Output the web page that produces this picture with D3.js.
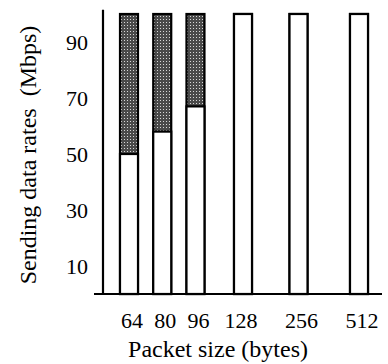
<!DOCTYPE html>
<html>
<head>
    <script src="https://d3js.org/d3.v7.min.js"></script>
    <style>
        body { margin: 0; background-color: #ffffff; }
        text { font-family: "Liberation Serif", "Times New Roman", serif; fill: #000; }
    </style>
</head>
<body>
    <svg id="canvas" width="388" height="364"></svg>
    <script>
        const svg = d3.select('#canvas');

        //packet sizes and rates
        const packetSizes = ['64', '80', '96', '128', '256', '512'];
        const sentRates = [50, 58, 67, 100, 100, 100];   //white part
        const offeredRates = [100, 100, 100, 100, 100, 100]; //top of the shaded part
        const yTicks = [10, 30, 50, 70, 90];

        //bars are not evenly spaced in the original, so each one gets a slot
        const slots = [0, 1, 2, 3.43, 5.1, 6.92];
        const BAR_WIDTH = 18;
        const TICK_FONT = 22;
        const TITLE_FONT = 24;

        const x = d3.scaleLinear().domain([0, 6.92]).range([129, 359]);
        const y = d3.scaleLinear().domain([0, 100]).range([294, 14]);

        //stipple pattern for the shaded part
        const defs = svg.append('defs');
        const pat = defs.append('pattern')
            .attr('id', 'stipple')
            .attr('width', 3).attr('height', 3)
            .attr('patternUnits', 'userSpaceOnUse');
        pat.append('rect').attr('width', 3).attr('height', 3).attr('fill', '#4a4a4a');
        pat.append('rect').attr('x', 1).attr('y', 1).attr('width', 1).attr('height', 1).attr('fill', '#d8d8d8');

        const bars = packetSizes.map((p, i) => ({ p, slot: slots[i], sent: sentRates[i], top: offeredRates[i] }));

        //shaded part (whole bar), then white part drawn over it
        svg.selectAll('.bar-top')
            .data(bars)
            .enter()
            .append('rect')
            .attr('class', 'bar-top')
            .attr('x', d => x(d.slot) - BAR_WIDTH / 2)
            .attr('y', d => y(d.top))
            .attr('width', BAR_WIDTH)
            .attr('height', d => y(0) - y(d.top))
            .attr('fill', 'url(#stipple)')
            .attr('stroke', 'black')
            .attr('stroke-width', 2.2);

        svg.selectAll('.bar-sent')
            .data(bars)
            .enter()
            .append('rect')
            .attr('class', 'bar-sent')
            .attr('x', d => x(d.slot) - BAR_WIDTH / 2)
            .attr('y', d => y(d.sent))
            .attr('width', BAR_WIDTH)
            .attr('height', d => y(0) - y(d.sent))
            .attr('fill', 'white')
            .attr('stroke', 'black')
            .attr('stroke-width', 2.2);

        //axes lines
        svg.append('line')
            .attr('x1', 103).attr('x2', 103)
            .attr('y1', y(101.5)).attr('y2', y(0))
            .attr('stroke', 'black').attr('stroke-width', 2.2);
        svg.append('line')
            .attr('x1', 94).attr('x2', 382)
            .attr('y1', y(0)).attr('y2', y(0))
            .attr('stroke', 'black').attr('stroke-width', 2.2);

        //y tick labels, no tick marks
        svg.selectAll('.ytick')
            .data(yTicks)
            .enter()
            .append('text')
            .attr('class', 'ytick')
            .attr('x', 88)
            .attr('y', d => y(d))
            .attr('dy', '0.35em')
            .attr('text-anchor', 'end')
            .attr('font-size', TICK_FONT)
            .text(d => d);

        //x tick labels
        svg.selectAll('.xtick')
            .data(bars)
            .enter()
            .append('text')
            .attr('class', 'xtick')
            .attr('x', d => x(d.slot) + (d.p === '128' ? -2 : 3))
            .attr('y', 328)
            .attr('text-anchor', 'middle')
            .attr('font-size', TICK_FONT)
            .text(d => d.p);

        svg.append('text')
            .attr('x', 218)
            .attr('y', 357)
            .attr('text-anchor', 'middle')
            .attr('font-size', TITLE_FONT)
            .text('Packet size (bytes)');

        svg.append('text')
            .attr('transform', 'translate(36,155) rotate(-90)')
            .attr('text-anchor', 'middle')
            .attr('font-size', TITLE_FONT)
            .attr('xml:space', 'preserve')
            .style('white-space', 'pre')
            .text('Sending data rates  (Mbps)');
    </script>
</body>
</html>
